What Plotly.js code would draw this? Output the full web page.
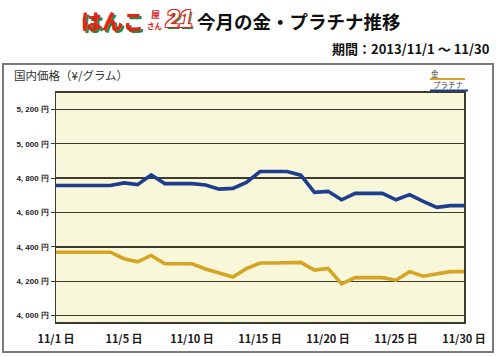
<!DOCTYPE html>
<html>
<head>
<meta charset="utf-8">
<script src="https://cdn.plot.ly/plotly-3.0.1.min.js"></script>
<style>
html,body{margin:0;padding:0;background:#fff;}
#chart{width:500px;height:356px;}
</style>
</head>
<body>
<div id="chart"></div>
<script>
// Day index 0..30 (11/1 .. 11/30 on the drawn axis)
var dayIndex = [0,1,2,3,4,5,6,7,8,9,10,11,12,13,14,15,16,17,18,19,20,21,22,23,24,25,26,27,28,29,30];
var platinum = [4757,4757,4757,4757,4757,4772,4762,4819,4768,4768,4768,4760,4736,4740,4775,4838,4838,4838,4817,4717,4723,4674,4711,4711,4711,4674,4704,4664,4630,4640,4640];
var gold =     [4369,4369,4369,4369,4369,4331,4313,4350,4302,4302,4302,4271,4246,4225,4273,4306,4306,4306,4310,4265,4275,4185,4221,4221,4221,4206,4256,4229,4242,4256,4256];
var xTickVals = [0,5,10,15,20,25,30];
var xTickText = ['11/1 日','11/5 日','11/10 日','11/15 日','11/20 日','11/25 日','11/30 日'];
var yTickVals = [4000,4200,4400,4600,4800,5000,5200];
var yTickText = ['4, 000 円','4, 200 円','4, 400 円','4, 600 円','4, 800 円','5, 000 円','5, 200 円'];
var seriesNames = ['金','プラチナ'];
var goldColor = '#d6a425';
var platColor = '#1f3d8f';

var JP = '"Noto Sans CJK JP", "Noto Sans", sans-serif';

var traces = [
  {x: dayIndex, y: gold, name: seriesNames[0], type: 'scatter', mode: 'lines',
   line: {color: goldColor, width: 3.6}, hoverinfo: 'skip'},
  {x: dayIndex, y: platinum, name: seriesNames[1], type: 'scatter', mode: 'lines',
   line: {color: platColor, width: 3.6}, hoverinfo: 'skip'}
];

function px(v){ return (v-56)/408; }
function py(v){ return (322-v)/229; }

var layout = {
  width: 500, height: 356,
  margin: {l: 56, r: 36, t: 93, b: 34, pad: 0},
  paper_bgcolor: '#ffffff',
  plot_bgcolor: '#f9f7da',
  showlegend: false,
  xaxis: {
    range: [0, 30], tickvals: xTickVals, ticktext: xTickText,
    showgrid: false, zeroline: false,
    showline: true, mirror: true, linecolor: '#3d3b2c', linewidth: 2,
    ticks: '', ticklabelshift: 0, ticklabelstandoff: 6,
    tickfont: {family: JP, size: 11, color: '#1a1a1a', weight: 'bold'}
  },
  yaxis: {
    range: [3963, 5295], tickvals: yTickVals, ticktext: yTickText,
    showgrid: true, gridcolor: '#3d3b2c', gridwidth: 1.3, zeroline: false,
    showline: true, mirror: true, linecolor: '#3d3b2c', linewidth: 1.5,
    ticks: 'outside', ticklen: 4, tickcolor: '#3d3b2c', tickwidth: 1.2,
    tickfont: {family: '"Liberation Sans", Arial, sans-serif', size: 8, color: '#222', weight: 'bold'}
  },
  shapes: [
    {type: 'rect', xref: 'paper', yref: 'paper', x0: px(3), x1: px(493), y0: py(352), y1: py(64),
     line: {color: '#7a7a7a', width: 2}, layer: 'below'},
    {type: 'line', xref: 'paper', yref: 'paper', x0: px(430), x1: px(465), y0: py(79), y1: py(79),
     line: {color: goldColor, width: 2}},
    {type: 'line', xref: 'paper', yref: 'paper', x0: px(430), x1: px(468), y0: py(90.5), y1: py(90.5),
     line: {color: platColor, width: 2}}
  ],
  annotations: [
    // logo
    {xref: 'paper', yref: 'paper', x: px(79), y: py(20), xanchor: 'left', yanchor: 'middle', showarrow: false,
     text: 'はんこ', font: {family: JP, size: 21, color: '#e2231a', weight: 900, shadow: '2px 2px 0 #1f8a3c'}},
    {xref: 'paper', yref: 'paper', x: px(155), y: py(14), xanchor: 'center', yanchor: 'middle', showarrow: false,
     text: '屋', font: {family: JP, size: 9, color: '#e2231a', weight: 700}},
    {xref: 'paper', yref: 'paper', x: px(155), y: py(25), xanchor: 'center', yanchor: 'middle', showarrow: false,
     text: 'さん', font: {family: JP, size: 7.5, color: '#e2231a', weight: 700}},
    {xref: 'paper', yref: 'paper', x: px(163), y: py(19), xanchor: 'left', yanchor: 'middle', showarrow: false,
     text: '<i>21</i>', font: {family: '"Liberation Sans", Arial, sans-serif', size: 24, color: '#ffffff', weight: 'bold', shadow: '-1px -1px 0 #e2231a, 1px -1px 0 #e2231a, -1px 1px 0 #e2231a, 1px 1px 0 #e2231a, 2px 2px 0 #1f8a3c'}},
    // title
    {xref: 'paper', yref: 'paper', x: px(195), y: py(21), xanchor: 'left', yanchor: 'middle', showarrow: false,
     text: '今月の金・プラチナ推移', font: {family: JP, size: 18.5, color: '#111', weight: 'bold'}},
    // period
    {xref: 'paper', yref: 'paper', x: px(492), y: py(48), xanchor: 'right', yanchor: 'middle', showarrow: false,
     text: '期間：2013/11/1 ～ 11/30', font: {family: JP, size: 13, color: '#111', weight: 'bold'}},
    // y title
    {xref: 'paper', yref: 'paper', x: px(12), y: py(75), xanchor: 'left', yanchor: 'middle', showarrow: false,
     text: '国内価格（¥/グラム）', font: {family: JP, size: 11.5, color: '#333'}},
    // legend texts
    {xref: 'paper', yref: 'paper', x: px(435), y: py(73), xanchor: 'center', yanchor: 'middle', showarrow: false,
     text: seriesNames[0], font: {family: JP, size: 7.5, color: '#444'}},
    {xref: 'paper', yref: 'paper', x: px(431), y: py(85), xanchor: 'left', yanchor: 'middle', showarrow: false,
     text: seriesNames[1], font: {family: JP, size: 7.5, color: '#444'}}
  ]
};

Plotly.newPlot('chart', traces, layout, {staticPlot: true, displayModeBar: false});
</script>
</body>
</html>
